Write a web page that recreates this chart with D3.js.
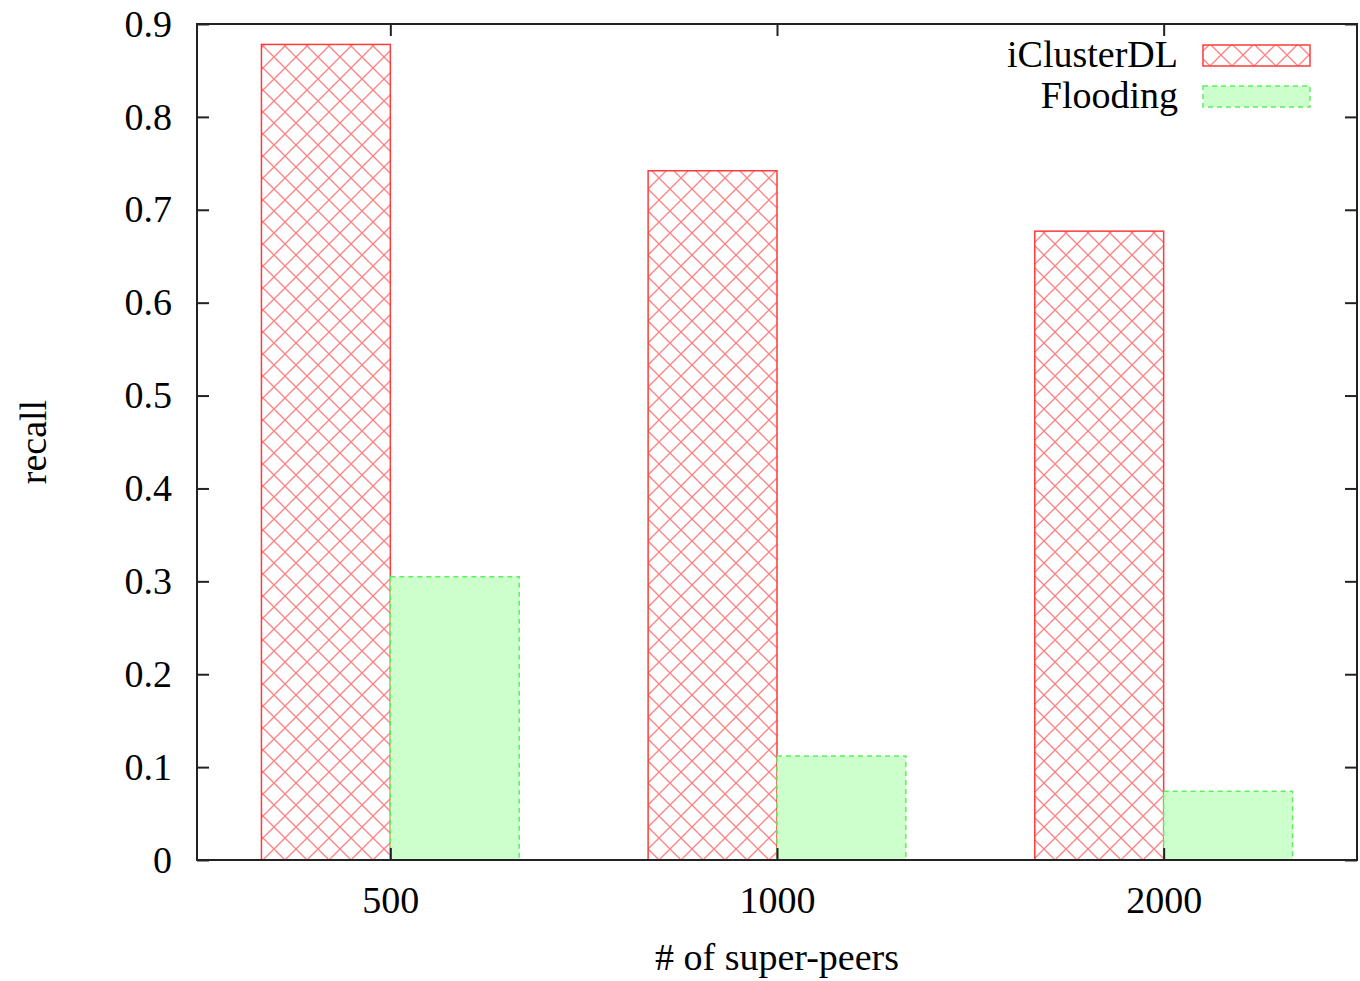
<!DOCTYPE html>
<html>
<head>
<meta charset="utf-8">
<script src="https://cdn.jsdelivr.net/npm/d3@7/dist/d3.min.js"></script>
<style>
  body { margin: 0; background: #fff; }
  text { font-family: "Liberation Serif", "Times New Roman", serif; fill: #000; }
</style>
</head>
<body>
<script>
// data
var categorias = ["500", "1000", "2000"];
var series = ["iClusterDL", "Flooding"];
var valoresICluster = [0.878, 0.742, 0.677];
var valoresFlooding = [0.305, 0.112, 0.074];
var ticksY = [0, 0.1, 0.2, 0.3, 0.4, 0.5, 0.6, 0.7, 0.8, 0.9];

var ancho = 1360, altura = 981;
var margen = { superior: 24, derecho: 3, inferior: 121, izquierdo: 197 };
var w = ancho - margen.izquierdo - margen.derecho;
var h = altura - margen.superior - margen.inferior;
var fuente = 38;

var svg = d3.select("body").append("svg")
    .attr("width", ancho)
    .attr("height", altura);

// hatch pattern for iClusterDL
var defs = svg.append("defs");
var patron = defs.append("pattern")
    .attr("id", "cruzado")
    .attr("patternUnits", "userSpaceOnUse")
    .attr("width", 22)
    .attr("height", 22);
patron.append("path")
    .attr("d", "M0,0L22,22M22,0L0,22M-11,11L11,33M11,-11L33,11M-11,11L11,-11M11,33L33,11")
    .attr("stroke", "#ff8080")
    .attr("stroke-width", 1.3)
    .attr("fill", "none");

var g = svg.append("g")
    .attr("transform", "translate(" + margen.izquierdo + "," + margen.superior + ")");

var escalaX = d3.scaleLinear().domain([-0.5, 2.5]).range([0, w]);
var escalaY = d3.scaleLinear().domain([0, 0.9]).range([h, 0]);

var anchoBarra = 1 / 3;

var estilos = [
    { fill: "url(#cruzado)", stroke: "#ff3b3b", dash: null, datos: valoresICluster },
    { fill: "#ccffcc", stroke: "#5ef05e", dash: "5,4", datos: valoresFlooding }
];

estilos.forEach(function (s, si) {
    g.selectAll(".barra" + si)
        .data(s.datos)
        .enter()
        .append("rect")
        .attr("x", function (d, i) { return escalaX(i - anchoBarra + si * anchoBarra); })
        .attr("width", escalaX(anchoBarra) - escalaX(0))
        .attr("y", function (d) { return escalaY(d); })
        .attr("height", function (d) { return h - escalaY(d); })
        .attr("fill", s.fill)
        .attr("stroke", s.stroke)
        .attr("stroke-width", 1.5)
        .attr("stroke-dasharray", s.dash);
});

// axes (gnuplot style: inward ticks, mirrored)
var ejeIzq = d3.axisLeft(escalaY).tickValues(ticksY).tickSize(-12).tickPadding(25)
    .tickFormat(function (d) { return d === 0 ? "0" : d3.format(".1f")(d); });
var ejeDer = d3.axisRight(escalaY).tickValues(ticksY).tickSize(-12).tickFormat("");
var ejeInf = d3.axisBottom(escalaX).tickValues([0, 1, 2]).tickSize(-12).tickPadding(26)
    .tickFormat(function (d) { return categorias[d]; });
var ejeSup = d3.axisTop(escalaX).tickValues([0, 1, 2]).tickSize(-12).tickFormat("");

function estilo(sel) {
    sel.select(".domain").remove();
    sel.selectAll(".tick line").attr("stroke", "#222").attr("stroke-width", 2);
    sel.selectAll(".tick text").style("font-size", fuente + "px").attr("fill", "#000");
}

g.append("g").call(ejeIzq).call(estilo);
g.append("g").attr("transform", "translate(" + w + ",0)").call(ejeDer).call(estilo);
g.append("g").attr("transform", "translate(0," + h + ")").call(ejeInf).call(estilo);
g.append("g").call(ejeSup).call(estilo);

g.selectAll(".tick text").attr("font-family", null);

// frame
g.append("rect")
    .attr("x", 0).attr("y", 0)
    .attr("width", w).attr("height", h)
    .attr("fill", "none")
    .attr("stroke", "#222")
    .attr("stroke-width", 2);

// axis titles
svg.append("text")
    .attr("x", margen.izquierdo + w / 2)
    .attr("y", 970)
    .attr("text-anchor", "middle")
    .style("font-size", fuente + "px")
    .text("# of super-peers");

svg.append("text")
    .attr("transform", "translate(46,442) rotate(-90)")
    .attr("text-anchor", "middle")
    .style("font-size", fuente + "px")
    .text("recall");

// legend
var leyenda = svg.append("g");
series.forEach(function (nombre, i) {
    var y0 = 45 + i * 41;
    leyenda.append("text")
        .attr("x", 1178)
        .attr("y", y0 + 22)
        .attr("text-anchor", "end")
        .style("font-size", fuente + "px")
        .text(nombre);
    leyenda.append("rect")
        .attr("x", 1203)
        .attr("y", y0)
        .attr("width", 107)
        .attr("height", 21)
        .attr("fill", estilos[i].fill)
        .attr("stroke", estilos[i].stroke)
        .attr("stroke-width", 1.5)
        .attr("stroke-dasharray", estilos[i].dash);
});
</script>
</body>
</html>
